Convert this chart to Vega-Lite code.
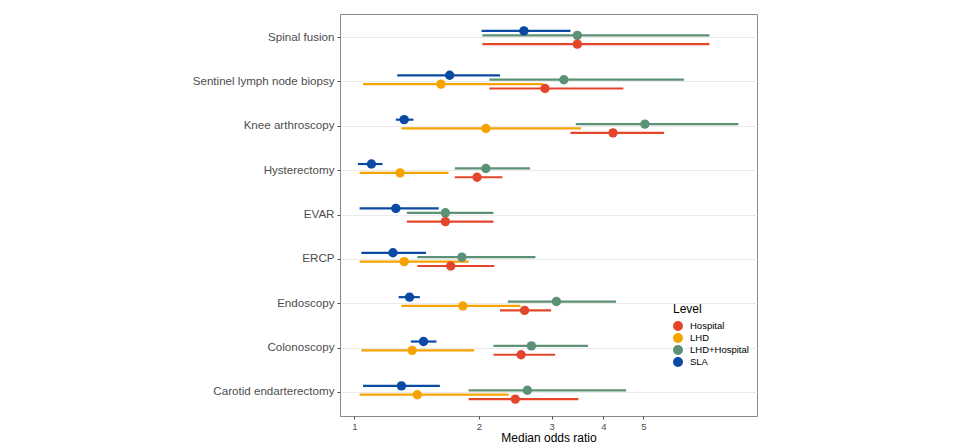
{
  "$schema": "https://vega.github.io/schema/vega-lite/v6.json",
  "width": 417,
  "height": 402,
  "autosize": {"type": "none"},
  "padding": {"left": 340, "top": 14, "right": 198, "bottom": 30},
  "background": "white",
  "config": {
    "font": "Liberation Sans",
    "view": {"stroke": "#8a8a8a", "strokeWidth": 1}
  },
  "data": {
    "values": [
      {"Procedure": "Spinal fusion", "Level": "SLA", "mor": 2.57, "lo": 2.03, "hi": 3.33},
      {"Procedure": "Spinal fusion", "Level": "LHD+Hospital", "mor": 3.46, "lo": 2.04, "hi": 7.22},
      {"Procedure": "Spinal fusion", "Level": "Hospital", "mor": 3.46, "lo": 2.04, "hi": 7.22},
      {"Procedure": "Sentinel lymph node biopsy", "Level": "SLA", "mor": 1.70, "lo": 1.27, "hi": 2.25},
      {"Procedure": "Sentinel lymph node biopsy", "Level": "LHD+Hospital", "mor": 3.21, "lo": 2.12, "hi": 6.26},
      {"Procedure": "Sentinel lymph node biopsy", "Level": "LHD", "mor": 1.62, "lo": 1.05, "hi": 2.86},
      {"Procedure": "Sentinel lymph node biopsy", "Level": "Hospital", "mor": 2.89, "lo": 2.12, "hi": 4.47},
      {"Procedure": "Knee arthroscopy", "Level": "SLA", "mor": 1.32, "lo": 1.26, "hi": 1.39},
      {"Procedure": "Knee arthroscopy", "Level": "LHD+Hospital", "mor": 5.04, "lo": 3.43, "hi": 8.48},
      {"Procedure": "Knee arthroscopy", "Level": "LHD", "mor": 2.08, "lo": 1.30, "hi": 3.53},
      {"Procedure": "Knee arthroscopy", "Level": "Hospital", "mor": 4.22, "lo": 3.33, "hi": 5.61},
      {"Procedure": "Hysterectomy", "Level": "SLA", "mor": 1.10, "lo": 1.02, "hi": 1.17},
      {"Procedure": "Hysterectomy", "Level": "LHD+Hospital", "mor": 2.08, "lo": 1.75, "hi": 2.66},
      {"Procedure": "Hysterectomy", "Level": "LHD", "mor": 1.29, "lo": 1.03, "hi": 1.69},
      {"Procedure": "Hysterectomy", "Level": "Hospital", "mor": 1.98, "lo": 1.75, "hi": 2.28},
      {"Procedure": "EVAR", "Level": "SLA", "mor": 1.26, "lo": 1.03, "hi": 1.60},
      {"Procedure": "EVAR", "Level": "LHD+Hospital", "mor": 1.66, "lo": 1.34, "hi": 2.17},
      {"Procedure": "EVAR", "Level": "Hospital", "mor": 1.66, "lo": 1.34, "hi": 2.17},
      {"Procedure": "ERCP", "Level": "SLA", "mor": 1.24, "lo": 1.04, "hi": 1.49},
      {"Procedure": "ERCP", "Level": "LHD+Hospital", "mor": 1.82, "lo": 1.42, "hi": 2.74},
      {"Procedure": "ERCP", "Level": "LHD", "mor": 1.32, "lo": 1.03, "hi": 1.89},
      {"Procedure": "ERCP", "Level": "Hospital", "mor": 1.71, "lo": 1.42, "hi": 2.18},
      {"Procedure": "Endoscopy", "Level": "SLA", "mor": 1.36, "lo": 1.28, "hi": 1.44},
      {"Procedure": "Endoscopy", "Level": "LHD+Hospital", "mor": 3.08, "lo": 2.35, "hi": 4.29},
      {"Procedure": "Endoscopy", "Level": "LHD", "mor": 1.83, "lo": 1.30, "hi": 2.52},
      {"Procedure": "Endoscopy", "Level": "Hospital", "mor": 2.58, "lo": 2.25, "hi": 2.99},
      {"Procedure": "Colonoscopy", "Level": "SLA", "mor": 1.47, "lo": 1.37, "hi": 1.58},
      {"Procedure": "Colonoscopy", "Level": "LHD+Hospital", "mor": 2.68, "lo": 2.17, "hi": 3.67},
      {"Procedure": "Colonoscopy", "Level": "LHD", "mor": 1.38, "lo": 1.04, "hi": 1.95},
      {"Procedure": "Colonoscopy", "Level": "Hospital", "mor": 2.53, "lo": 2.17, "hi": 3.06},
      {"Procedure": "Carotid endarterectomy", "Level": "SLA", "mor": 1.30, "lo": 1.05, "hi": 1.61},
      {"Procedure": "Carotid endarterectomy", "Level": "LHD+Hospital", "mor": 2.62, "lo": 1.89, "hi": 4.54},
      {"Procedure": "Carotid endarterectomy", "Level": "LHD", "mor": 1.42, "lo": 1.03, "hi": 2.36},
      {"Procedure": "Carotid endarterectomy", "Level": "Hospital", "mor": 2.45, "lo": 1.89, "hi": 3.48}
    ]
  },
  "encoding": {
    "y": {
      "field": "Procedure",
      "type": "nominal",
      "sort": ["Spinal fusion", "Sentinel lymph node biopsy", "Knee arthroscopy", "Hysterectomy", "EVAR", "ERCP", "Endoscopy", "Colonoscopy", "Carotid endarterectomy"],
      "scale": {"type": "band", "paddingInner": 0, "paddingOuter": 0.03},
      "axis": {
        "title": null,
        "labelFontSize": 11.6,
        "labelColor": "#4d4d4d",
        "labelPadding": 3,
        "tickColor": "#4d4d4d",
        "tickSize": 3,
        "domain": false,
        "grid": true,
        "gridColor": "#ebebeb",
        "gridWidth": 1
      }
    },
    "yOffset": {
      "field": "Level",
      "type": "nominal",
      "scale": {"type": "point", "domain": ["SLA", "LHD+Hospital", "LHD", "Hospital"], "padding": 0, "range": [15.6, 28.8]}
    },
    "color": {
      "field": "Level",
      "type": "nominal",
      "scale": {
        "domain": ["Hospital", "LHD", "LHD+Hospital", "SLA"],
        "range": ["#E4462B", "#F5A300", "#5B9174", "#0A4AA3"]
      },
      "legend": {
        "orient": "none",
        "legendX": 333,
        "legendY": 290,
        "title": "Level",
        "titleFontSize": 12,
        "titleFontWeight": "normal",
        "titleColor": "#000000",
        "titlePadding": 5,
        "labelFontSize": 9.5,
        "labelColor": "#000000",
        "labelOffset": 7,
        "symbolType": "circle",
        "symbolSize": 100,
        "symbolStrokeWidth": 0,
        "symbolOpacity": 1,
        "rowPadding": 2
      }
    }
  },
  "layer": [
    {
      "mark": {"type": "rule", "strokeWidth": 2.2},
      "encoding": {
        "x": {
          "field": "lo",
          "type": "quantitative",
          "scale": {"type": "log", "domain": [0.9235, 9.406], "nice": false},
          "axis": {
            "title": "Median odds ratio",
            "values": [1, 2, 3, 4, 5],
            "format": "d",
            "labelFontSize": 9.5,
            "labelColor": "#4d4d4d",
            "labelPadding": 2,
            "tickColor": "#4d4d4d",
            "tickSize": 3,
            "domain": false,
            "grid": false,
            "titleFontSize": 12,
            "titleFontWeight": "normal",
            "titleColor": "#000000",
            "titlePadding": 2
          }
        },
        "x2": {"field": "hi"}
      }
    },
    {
      "mark": {"type": "circle", "size": 88, "opacity": 1},
      "encoding": {
        "x": {"field": "mor", "type": "quantitative", "title": "Median odds ratio"}
      }
    }
  ]
}
